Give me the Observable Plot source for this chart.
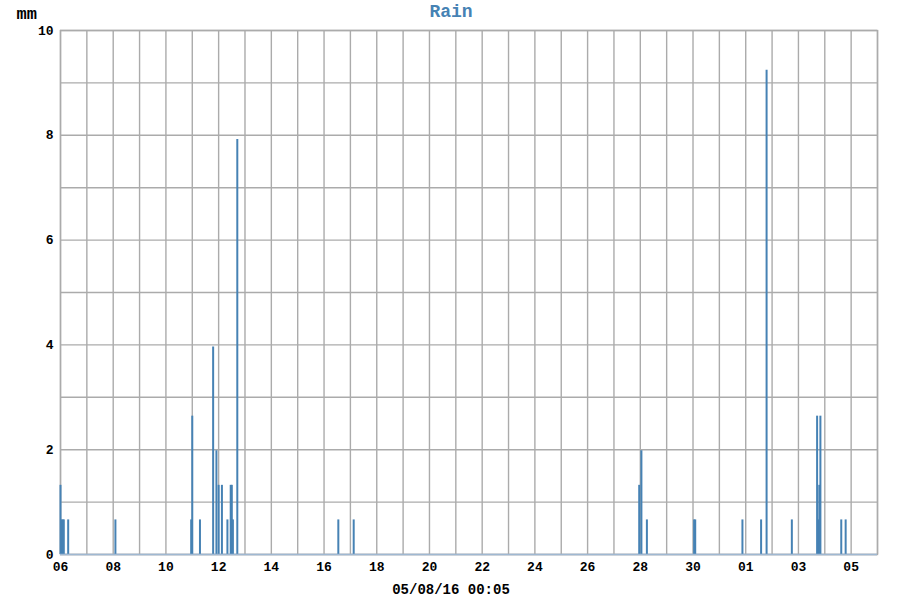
<!DOCTYPE html>
<html>
<head>
<meta charset="utf-8">
<script src="https://cdn.jsdelivr.net/npm/d3@7"></script>
<script src="https://cdn.jsdelivr.net/npm/@observablehq/plot@0.6"></script>
<style>
  html, body { margin: 0; padding: 0; background: #fff; }
</style>
</head>
<body>
<div id="chart"></div>
<script>
// Hourly rain readings (UTC)
const times = [
  "2016-03-06T00:00Z", "2016-03-06T01:00Z", "2016-03-06T02:00Z", "2016-03-06T03:00Z",
  "2016-03-06T07:00Z", "2016-03-08T02:00Z", "2016-03-10T23:00Z", "2016-03-11T00:00Z",
  "2016-03-11T07:00Z", "2016-03-11T19:00Z", "2016-03-11T22:00Z", "2016-03-12T00:00Z",
  "2016-03-12T03:00Z", "2016-03-12T08:00Z", "2016-03-12T11:00Z", "2016-03-12T12:00Z",
  "2016-03-12T13:00Z", "2016-03-12T17:00Z", "2016-03-16T13:00Z", "2016-03-17T03:00Z",
  "2016-03-27T23:00Z", "2016-03-28T01:00Z", "2016-03-28T06:00Z", "2016-03-30T01:00Z",
  "2016-03-30T02:00Z", "2016-03-31T21:00Z", "2016-04-01T14:00Z", "2016-04-01T19:00Z",
  "2016-04-02T18:00Z", "2016-04-03T17:00Z", "2016-04-03T18:00Z", "2016-04-03T19:00Z",
  "2016-04-03T20:00Z", "2016-04-04T15:00Z", "2016-04-04T19:00Z"
];
const rainMm = [
  1.32, 0.66, 0.66, 0.66,
  0.66, 0.66, 0.66, 2.64,
  0.66, 3.96, 1.98, 1.32,
  1.32, 0.66, 1.32, 1.32,
  0.66, 7.92, 0.66, 0.66,
  1.32, 1.98, 0.66, 0.66,
  0.66, 0.66, 0.66, 9.24,
  0.66, 2.64, 0.66, 1.32,
  2.64, 0.66, 0.66
];
const xDomain = ["2016-03-06T00:00Z", "2016-04-06T00:00Z"];
const xTickDates = [
  "2016-03-06", "2016-03-08", "2016-03-10", "2016-03-12", "2016-03-14", "2016-03-16",
  "2016-03-18", "2016-03-20", "2016-03-22", "2016-03-24", "2016-03-26", "2016-03-28",
  "2016-03-30", "2016-04-01", "2016-04-03", "2016-04-05"
];
const yTicks = [0, 2, 4, 6, 8, 10];
const yGrid = [0, 1, 2, 3, 4, 5, 6, 7, 8, 9, 10];
const titleText = "Rain";
const unitText = "mm";
const captionText = "05/08/16 00:05";

const data = times.map((t, i) => ({date: new Date(t), mm: rainMm[i]}));
const domain = xDomain.map(d => new Date(d));
const dayGrid = d3.utcDay.range(domain[0], d3.utcDay.offset(domain[1], 1));
const xTicks = xTickDates.map(d => new Date(d + "T00:00Z"));

const gridColor = "#ababab";
const barColor = "#4682b4";

const chart = Plot.plot({
  width: 900,
  height: 600,
  marginLeft: 60,
  marginRight: 23,
  marginTop: 30,
  marginBottom: 46,
  style: {fontFamily: "'Liberation Mono', monospace", fontSize: "13px", fontWeight: "bold", color: "#000", background: "#fff", overflow: "visible"},
  x: {type: "utc", domain, label: null},
  y: {domain: [0, 10], label: null},
  marks: [
    Plot.gridX(dayGrid, {stroke: gridColor, strokeOpacity: 1, strokeWidth: 1.4}),
    Plot.gridY(yGrid, {stroke: gridColor, strokeOpacity: 1, strokeWidth: 1.4}),
    Plot.frame({stroke: gridColor, strokeWidth: 1.4}),
    Plot.ruleX(data, {x: "date", y1: 0, y2: "mm", stroke: barColor, strokeWidth: 2}),
    Plot.ruleY([0], {stroke: "#9fb8d2", strokeWidth: 1.5}),
    Plot.axisX(xTicks, {tickFormat: d3.utcFormat("%d"), tickSize: 0, tickPadding: 7, label: null}),
    Plot.axisY(yTicks, {tickFormat: d3.format("d"), tickSize: 0, tickPadding: 7, label: null}),
    Plot.text([titleText], {frameAnchor: "top", dx: -18, dy: -26, fill: barColor, fontSize: 18, fontWeight: "bold"}),
    Plot.text([unitText], {frameAnchor: "top-left", dx: -44, dy: -24, fill: "#000", fontSize: 17, fontWeight: "bold", fontFamily: "'Liberation Mono', monospace"}),
    Plot.text([captionText], {frameAnchor: "bottom", dx: -18, dy: 39, fill: "#000", fontSize: 14})
  ]
});
document.getElementById("chart").appendChild(chart);
</script>
</body>
</html>
